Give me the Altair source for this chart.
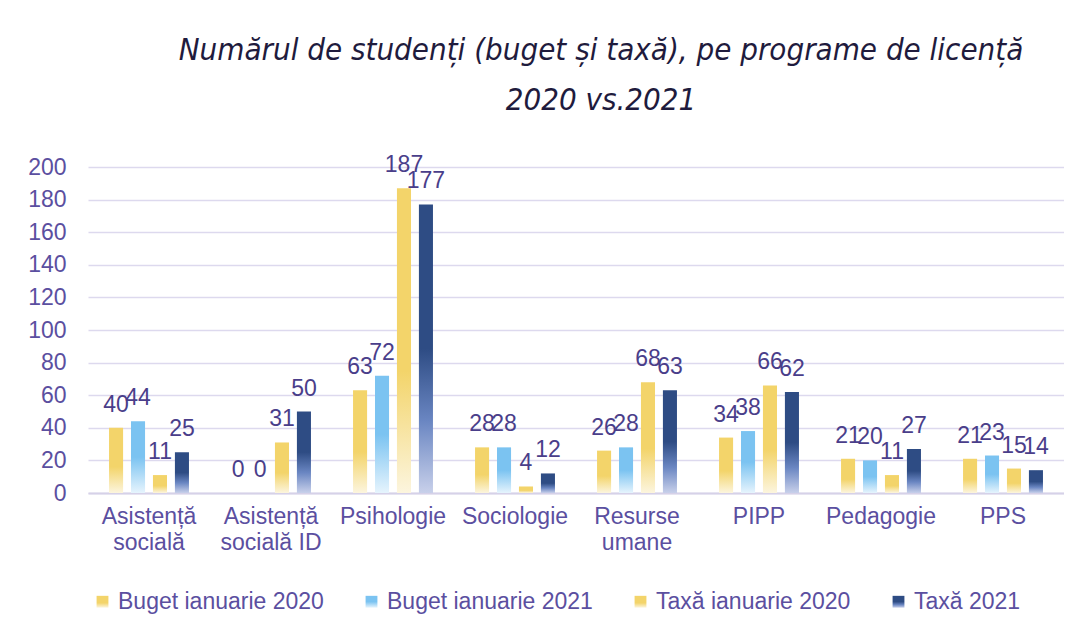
import altair as alt
import pandas as pd

categories = ["Asistență|socială", "Asistență|socială ID", "Psihologie", "Sociologie",
              "Resurse|umane", "PIPP", "Pedagogie", "PPS"]
series = ["Buget ianuarie 2020", "Buget ianuarie 2021", "Taxă ianuarie 2020", "Taxă 2021"]
buget_2020 = [40, 0, 63, 28, 26, 34, 21, 21]
buget_2021 = [44, 0, 72, 28, 28, 38, 20, 23]
taxa_2020 = [11, 31, 187, 4, 68, 66, 11, 15]
taxa_2021 = [25, 50, 177, 12, 63, 62, 27, 14]

rows = []
for s, vals in zip(series, [buget_2020, buget_2021, taxa_2020, taxa_2021]):
    for c, v in zip(categories, vals):
        rows.append({"cat": c, "series": s, "value": v})
df = pd.DataFrame(rows)


def grad(top, bottom, solid, mid=None):
    stops = [f"{{offset:0,color:'{top}'}}", f"{{offset:{solid},color:'{top}'}}"]
    if mid:
        stops.append(f"{{offset:{mid[0]},color:'{mid[1]}'}}")
    stops.append(f"{{offset:1,color:'{bottom}'}}")
    return {"expr": "{gradient:'linear',x1:0,y1:0,x2:0,y2:1,stops:[" + ",".join(stops) + "]}"}


yellow = grad("#F3D46A", "#FCF5DE", 0.6)
lblue = grad("#7BC3F1", "#E6F4FD", 0.5)
dblue = grad("#2E4C84", "#C8D0EA", 0.5, (0.75, "#6A86C2"))

label_color = "#4A3E8A"
axis_color = "#5B4FA0"
font = "Liberation Sans"

base = alt.Chart(df).encode(
    x=alt.X("cat:N", sort=categories, title=None,
            scale=alt.Scale(paddingInner=0.28, paddingOuter=0.14),
            axis=alt.Axis(labelAngle=0, labelExpr="split(datum.value, '|')",
                          labelFont=font, labelFontSize=23, labelColor=axis_color,
                          labelPadding=12, labelLineHeight=26, ticks=False,
                          domain=True, domainColor="#D6D1E8", domainWidth=2,
                          labelBaseline="top")),
    xOffset=alt.XOffset("series:N", sort=series,
                        scale=alt.Scale(paddingInner=0.36, paddingOuter=0.18)),
    y=alt.Y("value:Q", title=None,
            scale=alt.Scale(domain=[0, 200], nice=False),
            axis=alt.Axis(values=list(range(0, 201, 20)), labelFont=font, labelFontSize=23,
                          labelColor=axis_color, labelPadding=22, ticks=False, domain=False,
                          gridColor="#DDD9EE", gridWidth=1.5)),
)

bars = base.mark_bar().encode(
    color=alt.Color("series:N", sort=series, title=None,
                    scale=alt.Scale(domain=series, range=[yellow, lblue, yellow, dblue]),
                    legend=alt.Legend(orient="none", legendX=3, legendY=423, direction="horizontal",
                                      columns=4, symbolType="square", symbolSize=140,
                                      labelFont=font, labelFontSize=23, labelColor=axis_color,
                                      columnPadding=36, labelOffset=4, padding=0, labelLimit=0,
                                      symbolStrokeWidth=0)),
)

labels = base.mark_text(font=font, fontSize=23, color=label_color, baseline="alphabetic",
                        dy=-16).encode(text=alt.Text("value:Q"))

chart = alt.layer(bars, labels).properties(
    width=976, height=326,
    autosize=alt.AutoSizeParams(type="none"),
    padding={"left": 80, "top": 159, "right": 0, "bottom": 130},
    title=alt.TitleParams(
        text=["Numărul de studenți (buget și taxă), pe programe  de licență", "2020 vs.2021"],
        font="DejaVu Sans Condensed, Lato", fontSize=31, fontStyle="italic", fontWeight="normal",
        color="#1F1B3D", anchor="middle", dx=25, offset=37, lineHeight=50),
).configure_view(stroke=None)

chart.save("out.html", embed_options={"renderer": "svg", "actions": False})
